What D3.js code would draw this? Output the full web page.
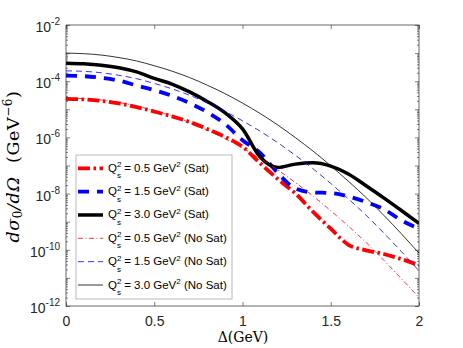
<!DOCTYPE html>
<html>
<head>
<meta charset="utf-8">
<script src="https://cdn.jsdelivr.net/npm/d3@7"></script>
<style>
body{margin:0;background:#fff}
</style>
</head>
<body>
<div id="chart"></div>
<script>
// Delta (GeV) sample points
const delta = [0,0.1,0.2,0.3,0.4,0.5,0.6,0.7,0.8,0.9,1.0,1.1,1.2,1.3,1.4,1.5,1.6,1.7,1.8,1.9,2.0]

// d sigma_0 / d Omega (GeV^-6)
const sat05 = [2.34e-5,2.24e-5,2.00e-5,1.62e-5,1.20e-5,8.32e-6,5.62e-6,3.55e-6,2.00e-6,1.05e-6,4.68e-7,1.20e-7,3.31e-8,1.00e-8,2.24e-9,5.62e-10,1.51e-10,9.55e-11,7.08e-11,4.68e-11,2.82e-11]
const sat15 = [1.58e-4,1.51e-4,1.32e-4,1.05e-4,7.08e-5,4.79e-5,3.02e-5,1.66e-5,7.94e-6,3.02e-6,7.94e-7,2.82e-7,5.37e-8,1.51e-8,1.10e-8,1.05e-8,7.94e-9,5.01e-9,2.82e-9,1.12e-9,5.62e-10]
const sat30 = [4.37e-4,4.17e-4,3.72e-4,3.02e-4,2.14e-4,1.26e-4,7.94e-5,4.17e-5,1.91e-5,7.59e-6,2.00e-6,2.00e-7,8.51e-8,1.12e-7,1.26e-7,9.55e-8,5.01e-8,1.91e-8,7.08e-9,2.51e-9,8.71e-10]
const noSat05 = [2.51e-5,2.40e-5,2.14e-5,1.74e-5,1.32e-5,8.91e-6,5.75e-6,3.39e-6,1.82e-6,9.12e-7,4.17e-7,1.78e-7,6.92e-8,2.45e-8,8.13e-9,2.45e-9,6.92e-10,1.82e-10,4.27e-11,9.33e-12,2.00e-12]
const noSat15 = [2.34e-4,2.24e-4,2.00e-4,1.62e-4,1.23e-4,8.32e-5,5.37e-5,3.16e-5,1.70e-5,8.51e-6,3.89e-6,1.66e-6,6.46e-7,2.29e-7,7.59e-8,2.29e-8,6.46e-9,1.70e-9,3.98e-10,8.71e-11,1.78e-11]
const noSat30 = [1.0e-3,9.55e-4,8.51e-4,6.92e-4,5.25e-4,3.55e-4,2.29e-4,1.35e-4,7.24e-5,3.63e-5,1.66e-5,7.08e-6,2.75e-6,9.77e-7,3.24e-7,9.77e-8,2.75e-8,7.24e-9,1.70e-9,3.72e-10,7.59e-11]

const qsValues = ['0.5','1.5','3.0','0.5','1.5','3.0']
const satLabels = ['(Sat)','(Sat)','(Sat)','(No Sat)','(No Sat)','(No Sat)']

const xTicks = [0,0.5,1,1.5,2]
const xTickLabels = ['0','0.5','1','1.5','2']
const yTickExp = [-12,-10,-8,-6,-4,-2]

// line styles, same order as legend
const series = [
  {values: sat05,   color:'#ff0000', width:3.8, dash:'12,3.5,2.5,3.5'},
  {values: sat15,   color:'#0000ff', width:3.8, dash:'11,8'},
  {values: sat30,   color:'#000000', width:3.5, dash:null},
  {values: noSat05, color:'#ff0000', width:0.8, dash:'5,2.5,1,2.5'},
  {values: noSat15, color:'#0000ff', width:0.8, dash:'6,4'},
  {values: noSat30, color:'#000000', width:0.8, dash:null}
]

const W = 463, H = 348
const box = {left:66, right:419, top:25, bottom:306}
const axisColor = '#262626'

const svg = d3.select('#chart').append('svg').attr('width',W).attr('height',H)
  .style('background','white')

const x = d3.scaleLinear().domain([0,2]).range([box.left,box.right])
const y = d3.scaleLog().domain([1e-12,1e-2]).range([box.bottom,box.top])

svg.append('clipPath').attr('id','clip').append('rect')
  .attr('x',box.left).attr('y',box.top)
  .attr('width',box.right-box.left).attr('height',box.bottom-box.top)

// curves
const line = d3.line()
  .x((d,i) => x(delta[i]))
  .y(d => y(d))
  .curve(d3.curveMonotoneX)

const g = svg.append('g').attr('clip-path','url(#clip)')
series.forEach(s => {
  g.append('path').datum(s.values)
    .attr('d',line)
    .attr('fill','none')
    .attr('stroke',s.color)
    .attr('stroke-width',s.width)
    .attr('stroke-dasharray',s.dash)
})

// log ticks
const majorY = d3.range(-12,-1).map(e => Math.pow(10,e))
const minorY = []
for (let e=-12; e<-2; e++) for (let m=2; m<10; m++) minorY.push(m*Math.pow(10,e))

const styleAxis = sel => {
  sel.select('.domain').remove()
  sel.selectAll('line').attr('stroke',axisColor).attr('stroke-width',0.6)
}

svg.append('g').attr('transform',`translate(0,${box.bottom})`)
  .call(d3.axisBottom(x).tickValues(xTicks).tickSizeInner(-4).tickSizeOuter(0).tickPadding(10)
    .tickFormat((d,i) => xTickLabels[i]))
  .call(styleAxis)
  .call(a => a.selectAll('text').attr('font-family','Liberation Sans, Arial, sans-serif')
    .attr('font-size',14).attr('fill',axisColor))
svg.append('g').attr('transform',`translate(0,${box.top})`)
  .call(d3.axisTop(x).tickValues(xTicks).tickSizeInner(-4).tickSizeOuter(0).tickFormat(''))
  .call(styleAxis)

svg.append('g').attr('transform',`translate(${box.left},0)`)
  .call(d3.axisLeft(y).tickValues(majorY).tickSizeInner(-4).tickSizeOuter(0).tickFormat(''))
  .call(styleAxis)
svg.append('g').attr('transform',`translate(${box.left},0)`)
  .call(d3.axisLeft(y).tickValues(minorY).tickSizeInner(-2).tickSizeOuter(0).tickFormat(''))
  .call(styleAxis)
svg.append('g').attr('transform',`translate(${box.right},0)`)
  .call(d3.axisRight(y).tickValues(majorY).tickSizeInner(-4).tickSizeOuter(0).tickFormat(''))
  .call(styleAxis)
svg.append('g').attr('transform',`translate(${box.right},0)`)
  .call(d3.axisRight(y).tickValues(minorY).tickSizeInner(-2).tickSizeOuter(0).tickFormat(''))
  .call(styleAxis)

// y tick labels 10^n
yTickExp.forEach(e => {
  const t = svg.append('text')
    .attr('x',60).attr('y',y(Math.pow(10,e))+7)
    .attr('text-anchor','end')
    .attr('font-family','Liberation Sans, Arial, sans-serif')
    .attr('fill',axisColor)
  t.append('tspan').attr('font-size',14).text('10')
  t.append('tspan').attr('font-size',10).attr('dy',-7).text(String(e))
})

// frame
svg.append('rect')
  .attr('x',box.left).attr('y',box.top)
  .attr('width',box.right-box.left).attr('height',box.bottom-box.top)
  .attr('fill','none').attr('stroke',axisColor).attr('stroke-width',0.7)

// axis titles
svg.append('text')
  .attr('x',243).attr('y',342)
  .attr('text-anchor','middle')
  .attr('font-family','DejaVu Serif, serif')
  .attr('font-size',14).attr('fill','#000')
  .text('\u0394(GeV)')

const yl = svg.append('text')
  .attr('transform','translate(18.5,166.5) rotate(-90)')
  .attr('text-anchor','middle')
  .attr('font-family','DejaVu Serif, serif')
  .attr('font-size',17.5).attr('letter-spacing',0.6).attr('fill','#000')
yl.append('tspan').attr('font-style','italic').text('d\u03c3')
yl.append('tspan').attr('font-size',12).attr('dy',3).text('0')
yl.append('tspan').attr('font-style','italic').attr('dy',-3).text('/d\u03a9')
yl.append('tspan').text('\u2002\u2009(GeV')
yl.append('tspan').attr('font-size',12).attr('dy',-7).text('\u22126')
yl.append('tspan').attr('dy',7).text(')')

// legend
const lg = svg.append('g')
lg.append('rect').attr('x',76).attr('y',155).attr('width',156).attr('height',144)
  .attr('fill','white').attr('stroke','#a8a8a8').attr('stroke-width',0.8)

const rowY = d3.scaleLinear().domain([0,5]).range([168.3,285])
series.forEach((s,i) => {
  const cy = rowY(i)
  lg.append('line').attr('x1',78).attr('x2',103).attr('y1',cy).attr('y2',cy)
    .attr('stroke',s.color).attr('stroke-width',s.width)
    .attr('stroke-dasharray',s.dash)
  const t = lg.append('text').attr('x',108).attr('y',cy+3.5)
    .attr('font-family','Liberation Sans, Arial, sans-serif')
    .attr('font-size',11.5).attr('fill','#000')
  t.append('tspan').text('Q')
  t.append('tspan').attr('font-size',8).attr('dy',-4.5).text('2')
  t.append('tspan').attr('font-size',8).attr('dx',-4.45).attr('dy',11).text('s')
  t.append('tspan').attr('dy',-6.5).text(`\u00a0= ${qsValues[i]} GeV`)
  t.append('tspan').attr('font-size',8).attr('dy',-4.5).text('2')
  t.append('tspan').attr('dy',4.5).text(`\u00a0${satLabels[i]}`)
})
</script>
</body>
</html>
